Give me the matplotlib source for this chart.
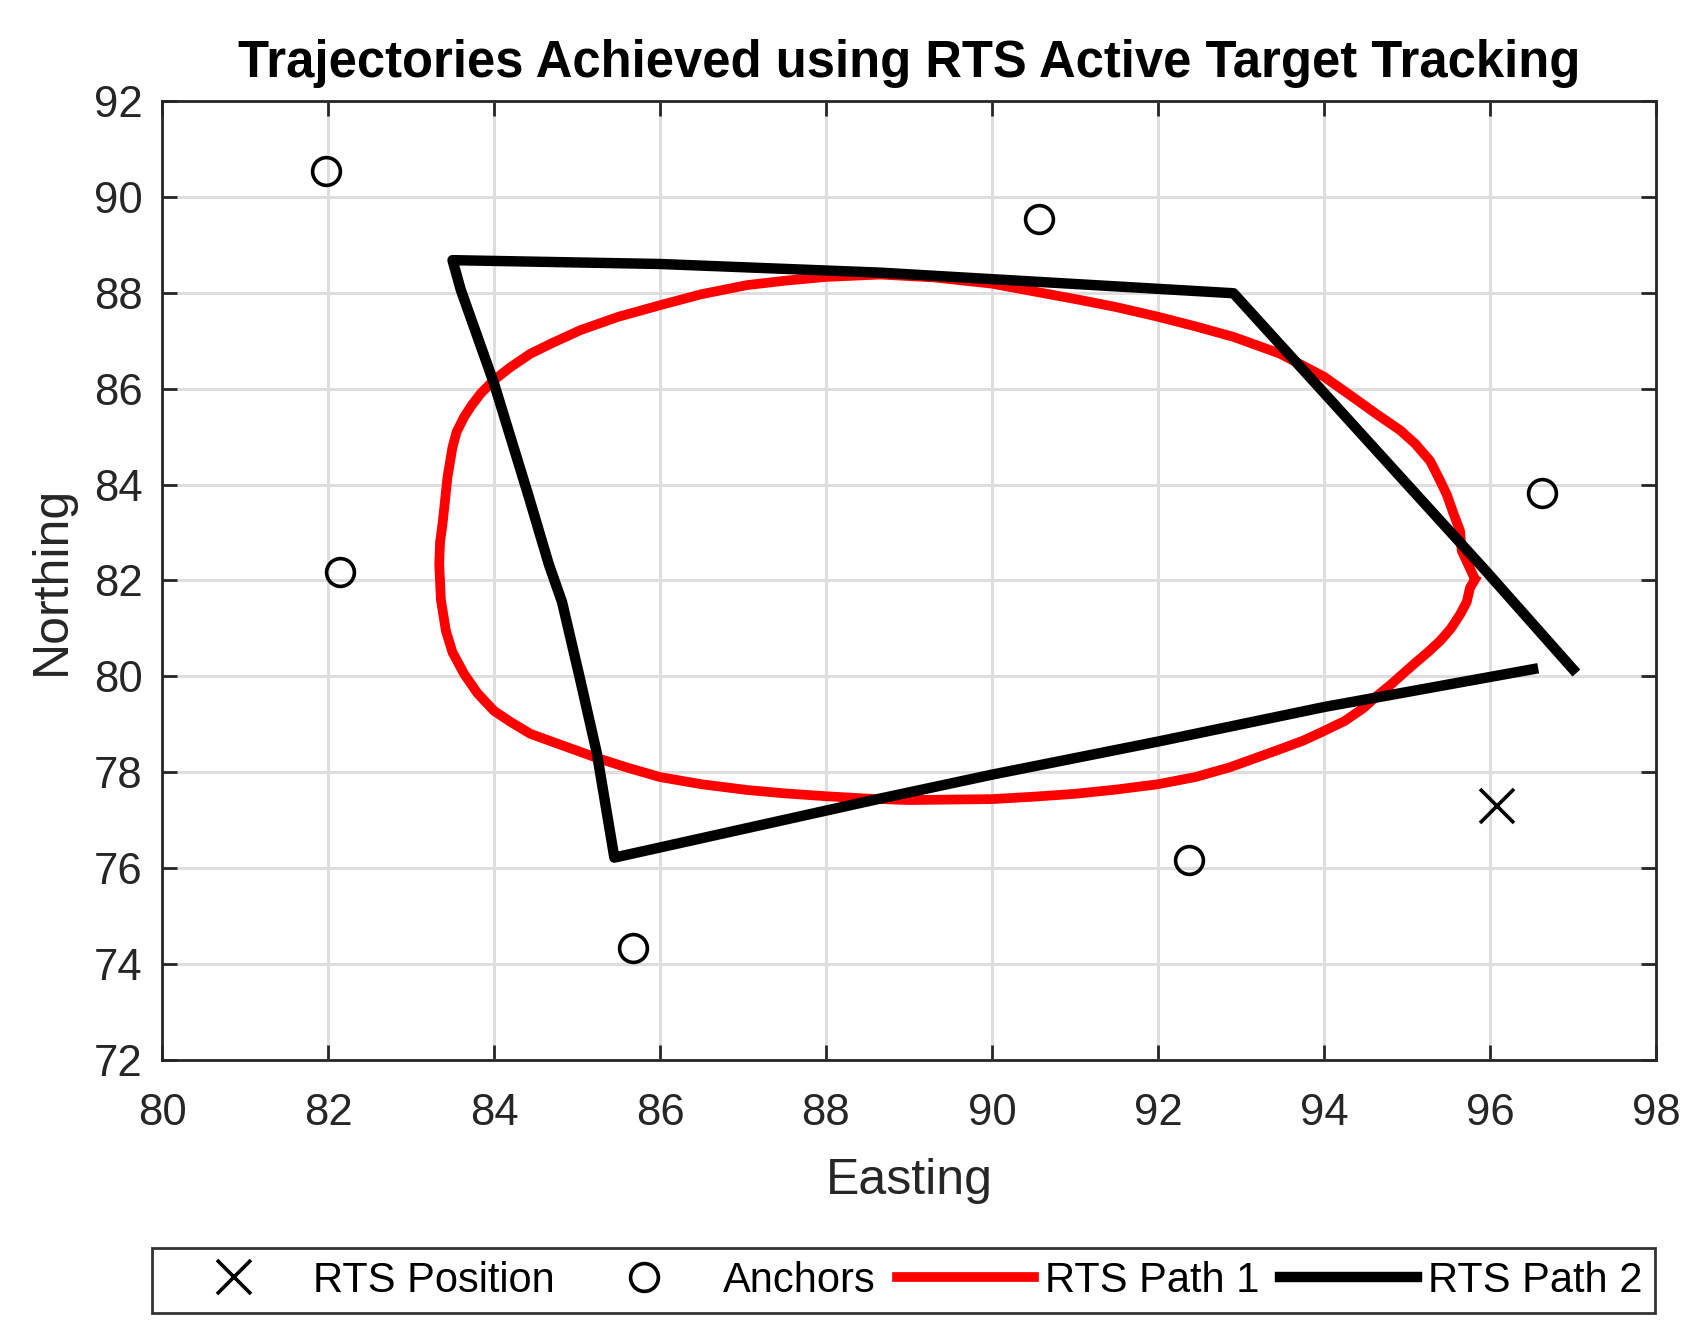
import matplotlib
matplotlib.use('Agg')
import matplotlib.pyplot as plt

plt.rcParams['font.family'] = ['Liberation Sans', 'DejaVu Sans']

# data
rts_pos_x = [96.09]
rts_pos_y = [77.29]

anchor_x = [81.97, 90.57, 96.63, 82.14, 92.38, 85.68]
anchor_y = [90.53, 89.54, 83.83, 82.18, 76.18, 74.33]

path1_x = [95.82, 95.76, 95.72, 95.64, 95.53, 95.40, 95.25, 95.08, 94.80, 94.63,
           94.47, 94.25, 94.00, 93.75, 93.47, 93.15, 92.86, 92.45, 92.00, 91.50,
           91.00, 90.50, 90.00, 89.50, 89.00, 88.50, 88.00, 87.50, 87.05, 86.50,
           86.00, 85.60, 85.24, 84.44, 84.20, 84.00, 83.80, 83.64, 83.50, 83.42,
           83.36, 83.34, 83.35, 83.38, 83.44, 83.50, 83.55, 83.64, 83.73, 83.84,
           84.00, 84.20, 84.44, 84.70, 85.04, 85.50, 86.00, 86.50, 87.05, 87.50,
           88.00, 88.65, 89.30, 90.00, 90.50, 91.06, 91.50, 92.00, 92.45, 92.91,
           93.47, 94.00, 94.40, 94.65, 94.92, 95.10, 95.28, 95.38, 95.48, 95.56,
           95.64, 95.66, 95.80]
path1_y = [82.02, 81.85, 81.55, 81.29, 81.00, 80.74, 80.50, 80.25, 79.82, 79.58,
           79.33, 79.07, 78.86, 78.66, 78.48, 78.28, 78.10, 77.90, 77.75, 77.64,
           77.55, 77.49, 77.44, 77.43, 77.42, 77.45, 77.50, 77.56, 77.63, 77.75,
           77.90, 78.10, 78.30, 78.80, 79.05, 79.28, 79.65, 80.05, 80.50, 80.95,
           81.60, 82.34, 82.80, 83.18, 84.16, 84.78, 85.10, 85.41, 85.65, 85.90,
           86.18, 86.45, 86.73, 86.95, 87.22, 87.50, 87.74, 87.97, 88.16, 88.25,
           88.33, 88.38, 88.32, 88.19, 88.03, 87.85, 87.70, 87.50, 87.30, 87.08,
           86.73, 86.25, 85.76, 85.45, 85.13, 84.85, 84.49, 84.15, 83.79, 83.40,
           83.03, 82.62, 82.10]

path2_x = [97.00, 95.95, 92.91, 88.65, 86.00, 83.50, 83.60, 84.00, 84.42, 84.66,
           84.82, 85.04, 85.24, 85.45, 88.65, 90.00, 92.00, 94.00, 96.52]
path2_y = [80.15, 82.20, 87.99, 88.42, 88.60, 88.68, 88.06, 86.11, 83.74, 82.34,
           81.55, 79.92, 78.39, 76.22, 77.45, 77.95, 78.64, 79.36, 80.15]

x_ticks = list(range(80, 99, 2))
y_ticks = list(range(72, 93, 2))

fig = plt.figure(figsize=(16.93, 13.39), dpi=100)
ax = fig.add_axes([0.0957, 0.2084, 0.8824, 0.7162])

axc = '0.15'
ax.plot(rts_pos_x, rts_pos_y, linestyle='none', marker='x', markersize=25,
        markeredgewidth=2.6, color='black', label='RTS Position')
ax.plot(anchor_x, anchor_y, linestyle='none', marker='o', markersize=20,
        markeredgewidth=2.6, markerfacecolor='none', color='black', label='Anchors')
ax.plot(path1_x, path1_y, color='red', linewidth=7, solid_joinstyle='round',
        label='RTS Path 1')
ax.plot(path2_x, path2_y, color='black', linewidth=7.5, solid_joinstyle='round',
        label='RTS Path 2')

ax.set_xlim(80, 98)
ax.set_ylim(72, 92)
ax.set_xticks(x_ticks)
ax.set_yticks(y_ticks)
ax.grid(True, color='#dedede', linewidth=2.2)
ax.set_axisbelow(True)
ax.tick_params(direction='in', length=11, width=2, colors=axc, labelsize=31.5,
               top=True, right=True)
ax.tick_params(axis='x', pad=24)
ax.tick_params(axis='y', pad=14)
for s in ax.spines.values():
    s.set_linewidth(2)
    s.set_color(axc)

ax.set_xlabel('Easting', fontsize=36, color=axc, labelpad=17)
ax.set_ylabel('Northing', fontsize=36, color=axc, labelpad=14)
ax.set_title('Trajectories Achieved using RTS Active Target Tracking',
             fontsize=36.5, fontweight='bold', pad=17)

leg = fig.legend(loc='center', bbox_to_anchor=(0.5337, 0.0435), ncol=4,
                 fontsize=30, frameon=True, fancybox=False, edgecolor='black',
                 handlelength=3.3, handletextpad=0.25, columnspacing=0.5,
                 borderpad=0.3, numpoints=1)
leg.get_frame().set_linewidth(2)

fig.savefig('out.png', dpi=100)
